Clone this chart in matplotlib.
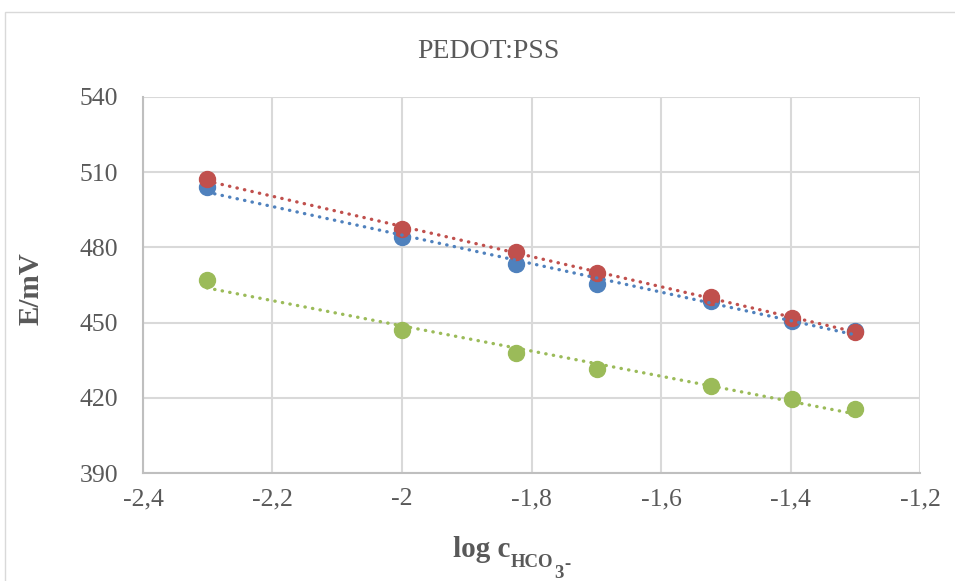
import numpy as np
import matplotlib
matplotlib.use("Agg")
import matplotlib.pyplot as plt
from matplotlib.patches import Rectangle

plt.rcParams['font.family'] = ['Liberation Serif', 'DejaVu Serif']

# Data
x_vals = [-2.301, -2.0, -1.824, -1.699, -1.523, -1.398, -1.301]
series_blue = [504.2, 484.0, 473.4, 465.4, 458.8, 450.8, 446.7]
series_red = [507.1, 487.4, 478.0, 469.8, 460.4, 452.0, 446.4]
series_green = [466.8, 447.1, 437.8, 431.4, 424.8, 419.4, 415.5]
x_ticks = [-2.4, -2.2, -2.0, -1.8, -1.6, -1.4, -1.2]
x_tick_labels = ["-2,4", "-2,2", "-2", "-1,8", "-1,6", "-1,4", "-1,2"]
y_ticks = [390, 420, 450, 480, 510, 540]

colors = {"blue": "#4f81bd", "red": "#c0504d", "green": "#9bbb59"}
txt = "#595959"

fig = plt.figure(figsize=(9.55, 5.81), dpi=100)
fig.patches.append(Rectangle((5/955, -0.1), 1.1, 1 - 12/581 + 0.1,
                             transform=fig.transFigure, fill=False,
                             edgecolor="#d9d9d9", linewidth=1.0))
ax = fig.add_axes([143/955, 1 - 473/581, (920 - 143)/955, (473 - 97)/581])

x = np.array(x_vals)
for name, ys in [("green", series_green), ("blue", series_blue), ("red", series_red)]:
    ax.plot(x, np.array(ys), linestyle="none", marker="o", markersize=11.5,
            color=colors[name], zorder=3)
for name, ys in [("green", series_green), ("blue", series_blue), ("red", series_red)]:
    ys = np.array(ys)
    m, b = np.polyfit(x, ys, 1)
    xx = np.array([x.min(), x.max()])
    ax.plot(xx, m * xx + b, color=colors[name], linewidth=2.4,
            linestyle=(0, (0.1, 2.2)), dash_capstyle="round", zorder=4)

ax.set_xlim(-2.4, -1.2)
ax.set_ylim(390, 540)
ax.set_xticks(x_ticks)
ax.set_xticklabels(x_tick_labels)
ax.set_yticks(y_ticks)
ax.grid(True, color="#d9d9d9", linewidth=1.5)
ax.set_axisbelow(True)
for s in ["top", "right"]:
    ax.spines[s].set_visible(False)
for s in ["left", "bottom"]:
    ax.spines[s].set_color("#bfbfbf")
    ax.spines[s].set_linewidth(1.5)
ax.tick_params(axis="both", length=0, labelsize=18.5, labelcolor=txt)
ax.tick_params(axis="x", pad=11)
ax.tick_params(axis="y", pad=18)

# Title
fig.text(488, 581 - 57.7, "PEDOT:PSS", ha="center", va="baseline",
         fontsize=20, color=txt, transform=None)
# Y label
fig.text(31, 581 - 289, "E/mV", ha="center", va="center", rotation=90,
         fontsize=21, fontweight="bold", color=txt, transform=None)
# X label built from pieces
t1 = fig.text(453, 581 - 556.7, "log c", ha="left", va="baseline",
              fontsize=21, fontweight="bold", color=txt, transform=None)
t2 = fig.text(0, 0, "HCO", ha="left", va="baseline", fontsize=13.5,
              fontweight="bold", color=txt)
t2.set_transform(None)
a2 = fig.add_artist(plt.Annotation("HCO", xy=(1.0, 581 - 566.7),
                                   xycoords=(t1, "figure pixels"),
                                   xytext=(0.5, 0), textcoords="offset points",
                                   ha="left", va="baseline", fontsize=13.5,
                                   fontweight="bold", color=txt))
t2.set_visible(False)
a3 = fig.add_artist(plt.Annotation("3", xy=(1.0, 581 - 578),
                                   xycoords=(a2, "figure pixels"),
                                   xytext=(0.5, 0), textcoords="offset points",
                                   ha="left", va="baseline", fontsize=13.5,
                                   fontweight="bold", color=txt))
a4 = fig.add_artist(plt.Annotation("-", xy=(1.0, 581 - 569),
                                   xycoords=(a3, "figure pixels"),
                                   xytext=(0.3, 0), textcoords="offset points",
                                   ha="left", va="baseline", fontsize=13.5,
                                   fontweight="bold", color=txt))

fig.savefig("out.png", dpi=100)
